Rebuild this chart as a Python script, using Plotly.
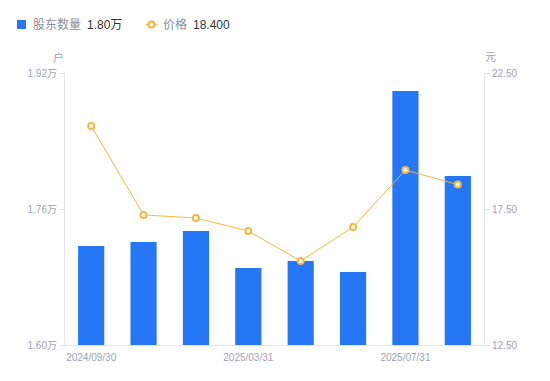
import plotly.graph_objects as go

dates = ["2024/09/30", "2024/12/31", "2025/02/28", "2025/03/31",
         "2025/04/30", "2025/06/30", "2025/07/31", "2025/08/20"]
holders = [1.7165, 1.7212, 1.7341, 1.6906, 1.6988, 1.6859, 1.8988, 1.7988]  # 万户
price = [20.55, 17.28, 17.17, 16.69, 15.59, 16.84, 18.93, 18.40]

shown_dates = ["2024/09/30", "2025/03/31", "2025/07/31"]
left_ticks = [1.60, 1.76, 1.92]
left_text = ["1.60万", "1.76万", "1.92万"]
right_ticks = [12.5, 17.5, 22.5]
right_text = ["12.50", "17.50", "22.50"]

FONT = "Liberation Sans, Noto Sans CJK SC, sans-serif"
GRAY = "#9ea3b4"
AXIS = "#e3e5ea"
BLUE = "#2577f5"
ORANGE = "#f8b642"

fig = go.Figure()
fig.add_trace(go.Bar(x=dates, y=holders, marker=dict(color=BLUE, line=dict(width=0)),
                     width=0.5, yaxis="y", showlegend=False))
fig.add_trace(go.Scatter(x=dates, y=price, yaxis="y2", mode="lines+markers",
                         line=dict(color=ORANGE, width=1),
                         marker=dict(size=6, color="white", line=dict(color=ORANGE, width=2)),
                         showlegend=False))

# page body has an 8px margin, so plot area is offset to compensate
fig.update_layout(
    width=550, height=381,
    margin=dict(l=57, r=74, t=65, b=44, autoexpand=False),
    paper_bgcolor="white", plot_bgcolor="white",
    font=dict(family=FONT, color=GRAY, size=10),
    bargap=0.5,
    xaxis=dict(type="category", tickmode="array", tickvals=shown_dates, ticktext=shown_dates,
               showline=True, linecolor=AXIS, linewidth=1, ticks="outside", ticklen=3,
               tickcolor="rgba(0,0,0,0)", showgrid=False,
               tickfont=dict(size=10, color=GRAY), zeroline=False),
    yaxis=dict(range=[1.60, 1.92], tickvals=left_ticks, ticktext=left_text,
               showline=True, linecolor=AXIS, linewidth=1, ticks="outside", ticklen=5,
               tickcolor=AXIS, showgrid=False, zeroline=False,
               tickfont=dict(size=10, color=GRAY)),
    yaxis2=dict(range=[12.5, 22.5], tickvals=right_ticks, ticktext=right_text,
                overlaying="y", side="right",
                showline=True, linecolor=AXIS, linewidth=1, ticks="outside", ticklen=5,
                tickcolor=AXIS, showgrid=False, zeroline=False,
                tickfont=dict(size=10, color=GRAY)),
)

# unit labels
fig.add_annotation(text="户", xref="paper", yref="paper", x=0, y=1, xshift=-7, yshift=16,
                   showarrow=False, font=dict(size=11, color=GRAY), xanchor="center", yanchor="middle")
fig.add_annotation(text="元", xref="paper", yref="paper", x=1, y=1, xshift=6, yshift=16,
                   showarrow=False, font=dict(size=11, color=GRAY), xanchor="center", yanchor="middle")

# custom legend
LY = 1 + (73 - 24.5) / 272
fig.add_shape(type="rect", xref="paper", yref="paper", x0=-48/419, x1=-39/419,
              y0=1 + (73 - 29) / 272, y1=1 + (73 - 20) / 272,
              fillcolor=BLUE, line=dict(width=0))
fig.add_annotation(text="股东数量", xref="paper", yref="paper", x=-34/419, y=LY,
                   showarrow=False, xanchor="left", yanchor="middle",
                   font=dict(size=12, color="#8a8e9c"))
fig.add_annotation(text="1.80万", xref="paper", yref="paper", x=20/419, y=LY,
                   showarrow=False, xanchor="left", yanchor="middle",
                   font=dict(size=12, color="#333333"))
fig.add_shape(type="line", xref="paper", yref="paper", x0=81/419, x1=92/419,
              y0=LY, y1=LY, line=dict(color=ORANGE, width=1.5))
fig.add_shape(type="circle", xref="paper", yref="paper", x0=83.5/419, x1=89.5/419,
              y0=1 + (73 - 27.5) / 272, y1=1 + (73 - 21.5) / 272,
              fillcolor="white", line=dict(color=ORANGE, width=2))
fig.add_annotation(text="价格", xref="paper", yref="paper", x=96/419, y=LY,
                   showarrow=False, xanchor="left", yanchor="middle",
                   font=dict(size=12, color="#8a8e9c"))
fig.add_annotation(text="18.400", xref="paper", yref="paper", x=126/419, y=LY,
                   showarrow=False, xanchor="left", yanchor="middle",
                   font=dict(size=12, color="#333333"))

fig.write_html("out.html")
